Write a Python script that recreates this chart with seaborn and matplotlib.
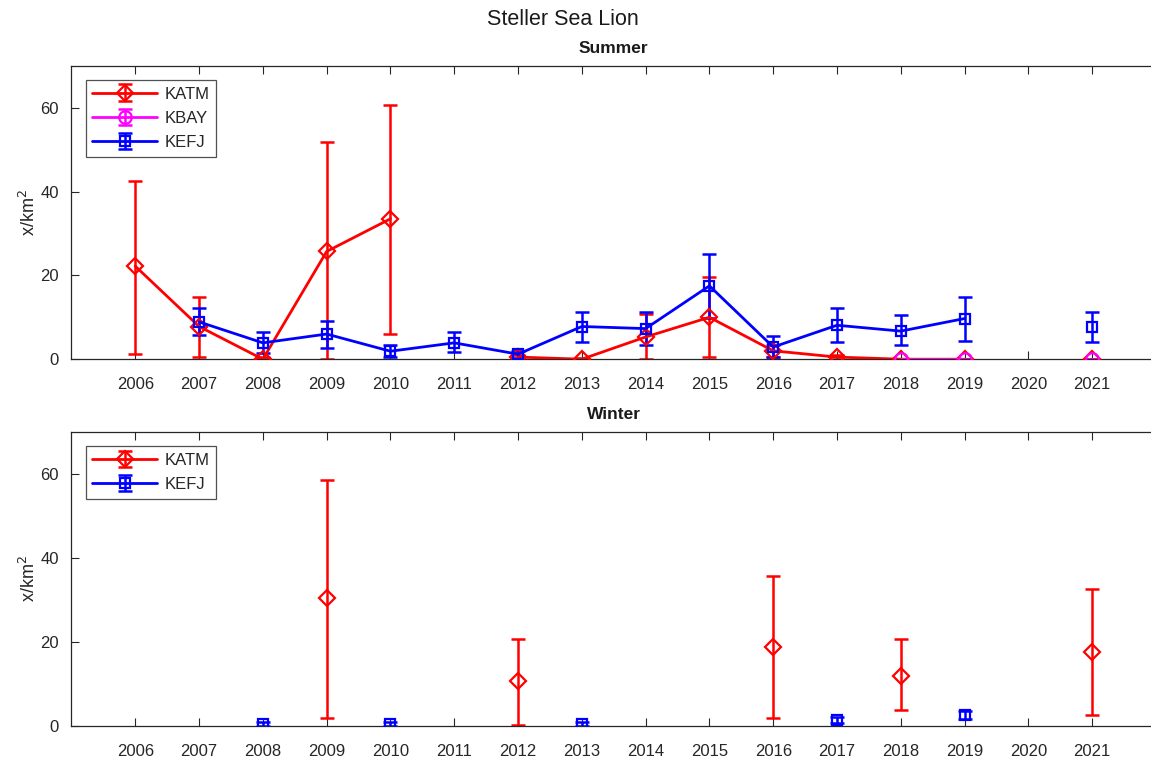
import numpy as np
import pandas as pd
import matplotlib
matplotlib.use("Agg")
import matplotlib.pyplot as plt
import seaborn as sns
from matplotlib.legend_handler import HandlerTuple

nan = np.nan
years = list(range(2006, 2022))

# Summer
s_katm = [22.2, 7.8, 0.0, 25.7, 33.5, nan, 0.5, 0.0, 5.3, 10.0, 2.0, 0.5, 0.0, 0.0, nan, 0.0]
s_katm_lo = [1.2, 0.5, 0.0, 0.0, 6.0, nan, 0.0, 0.0, 0.0, 0.5, 0.5, 0.0, 0.0, 0.0, nan, 0.0]
s_katm_hi = [42.5, 14.8, 0.5, 51.8, 60.6, nan, 1.0, 0.3, 10.8, 19.5, 3.5, 1.0, 0.0, 0.0, nan, 0.0]

s_kbay = [nan, nan, nan, nan, nan, nan, nan, nan, nan, nan, nan, nan, 0.0, 0.0, nan, 0.0]
s_kbay_lo = [nan, nan, nan, nan, nan, nan, nan, nan, nan, nan, nan, nan, 0.0, 0.0, nan, 0.0]
s_kbay_hi = [nan, nan, nan, nan, nan, nan, nan, nan, nan, nan, nan, nan, 0.0, 0.0, nan, 0.0]

s_kefj = [nan, 8.9, 3.9, 6.0, 1.9, 3.9, 1.2, 7.8, 7.3, 17.5, 2.9, 8.1, 6.7, 9.7, nan, 7.8]
s_kefj_lo = [nan, 5.7, 1.4, 2.6, 0.5, 1.7, 0.4, 4.1, 3.3, 9.8, 0.5, 4.1, 3.3, 4.4, nan, 4.1]
s_kefj_hi = [nan, 12.2, 6.5, 9.1, 3.4, 6.5, 2.0, 11.3, 11.3, 25.1, 5.5, 12.3, 10.5, 14.9, nan, 11.3]

# Winter
w_katm = [nan, nan, nan, 30.4, nan, nan, 10.6, nan, nan, nan, 18.7, nan, 12.0, nan, nan, 17.6]
w_katm_lo = [nan, nan, nan, 1.8, nan, nan, 0.2, nan, nan, nan, 1.8, nan, 3.7, nan, nan, 2.6]
w_katm_hi = [nan, nan, nan, 58.6, nan, nan, 20.6, nan, nan, nan, 35.6, nan, 20.6, nan, nan, 32.5]

w_kefj = [nan, nan, 0.5, nan, 0.5, nan, nan, 0.5, nan, nan, nan, 1.4, nan, 2.6, nan, nan]
w_kefj_lo = [nan, nan, 0.0, nan, 0.0, nan, nan, 0.0, nan, nan, nan, 0.6, nan, 1.6, nan, nan]
w_kefj_hi = [nan, nan, 1.0, nan, 1.0, nan, nan, 1.0, nan, nan, nan, 2.2, nan, 3.6, nan, nan]

sns.set_style("white")
plt.rcParams['font.family'] = ['Liberation Sans', 'DejaVu Sans']

fig = plt.figure(figsize=(11.51, 7.61), dpi=100)
ax1 = fig.add_axes([0.0621, 0.528, 0.9422, 0.3855])
ax2 = fig.add_axes([0.0621, 0.046, 0.9422, 0.3865])

styles = {
    'KATM': dict(color=(1, 0, 0), marker='D', ms=8),
    'KBAY': dict(color=(1, 0, 1), marker='o', ms=9),
    'KEFJ': dict(color=(0, 0, 1), marker='s', ms=7.5),
}


def segments(vals):
    seg = []
    cur = 0
    prev_nan = True
    for v in vals:
        if np.isnan(v):
            prev_nan = True
            seg.append(-1)
        else:
            if prev_nan:
                cur += 1
            prev_nan = False
            seg.append(cur)
    return seg


def draw(ax, name, vals, lo, hi):
    st = styles[name]
    df = pd.DataFrame({'year': years, 'val': vals, 'lo': lo, 'hi': hi})
    df['seg'] = segments(vals)
    d = df.dropna(subset=['val'])
    ebc = ax.errorbar(d['year'], d['val'],
                      yerr=[d['val'] - d['lo'], d['hi'] - d['val']],
                      fmt='none', ecolor=st['color'], elinewidth=1.8,
                      capsize=5, capthick=1.8, zorder=2)
    sns.lineplot(data=d, x='year', y='val', units='seg', estimator=None,
                 color=st['color'], marker=st['marker'], markersize=st['ms'],
                 markerfacecolor='none', markeredgecolor=st['color'],
                 markeredgewidth=1.6, linewidth=2.0, ax=ax, zorder=3,
                 legend=False)
    proxy = matplotlib.lines.Line2D([], [], color=st['color'], marker=st['marker'],
                                    markersize=st['ms'], markerfacecolor='none',
                                    markeredgewidth=1.6, linewidth=2.0)
    return (ebc, proxy)


h1 = [draw(ax1, 'KATM', s_katm, s_katm_lo, s_katm_hi),
      draw(ax1, 'KBAY', s_kbay, s_kbay_lo, s_kbay_hi),
      draw(ax1, 'KEFJ', s_kefj, s_kefj_lo, s_kefj_hi)]
h2 = [draw(ax2, 'KATM', w_katm, w_katm_lo, w_katm_hi),
      draw(ax2, 'KEFJ', w_kefj, w_kefj_lo, w_kefj_hi)]

for ax, title, handles, labels in [(ax1, 'Summer', h1, ['KATM', 'KBAY', 'KEFJ']),
                                   (ax2, 'Winter', h2, ['KATM', 'KEFJ'])]:
    ax.set_xlim(2005, 2022)
    ax.set_ylim(0, 70)
    ax.set_xticks(years)
    ax.set_xticklabels([str(y) for y in years])
    ax.set_yticks([0, 20, 40, 60])
    ax.set_xlabel('')
    ax.set_ylabel('x/km$^2$', fontsize=13, color='#262626', labelpad=1)
    ax.set_title(title, fontsize=12.5, fontweight='bold', color='#1a1a1a', pad=9)
    ax.tick_params(axis='both', direction='in', length=6, width=0.8,
                   labelsize=12, labelcolor='#262626', color='#262626',
                   top=True, bottom=True, left=True, right=False)
    ax.tick_params(axis='x', pad=13)
    ax.tick_params(axis='y', pad=9)
    for sp in ax.spines.values():
        sp.set_color('#262626')
        sp.set_linewidth(0.9)
    leg = ax.legend(handles, labels, loc='upper left', fontsize=12,
                    handler_map={tuple: HandlerTuple(ndivide=1)},
                    handlelength=3.9, frameon=True, fancybox=False,
                    edgecolor='#262626', borderaxespad=0.85, labelspacing=0.55,
                    handletextpad=0.45, borderpad=0.4)
    leg.get_frame().set_linewidth(0.9)

fig.suptitle('Steller Sea Lion', fontsize=15.5, color='#1a1a1a', x=0.489, y=0.988)

fig.savefig('out.png', dpi=100)
